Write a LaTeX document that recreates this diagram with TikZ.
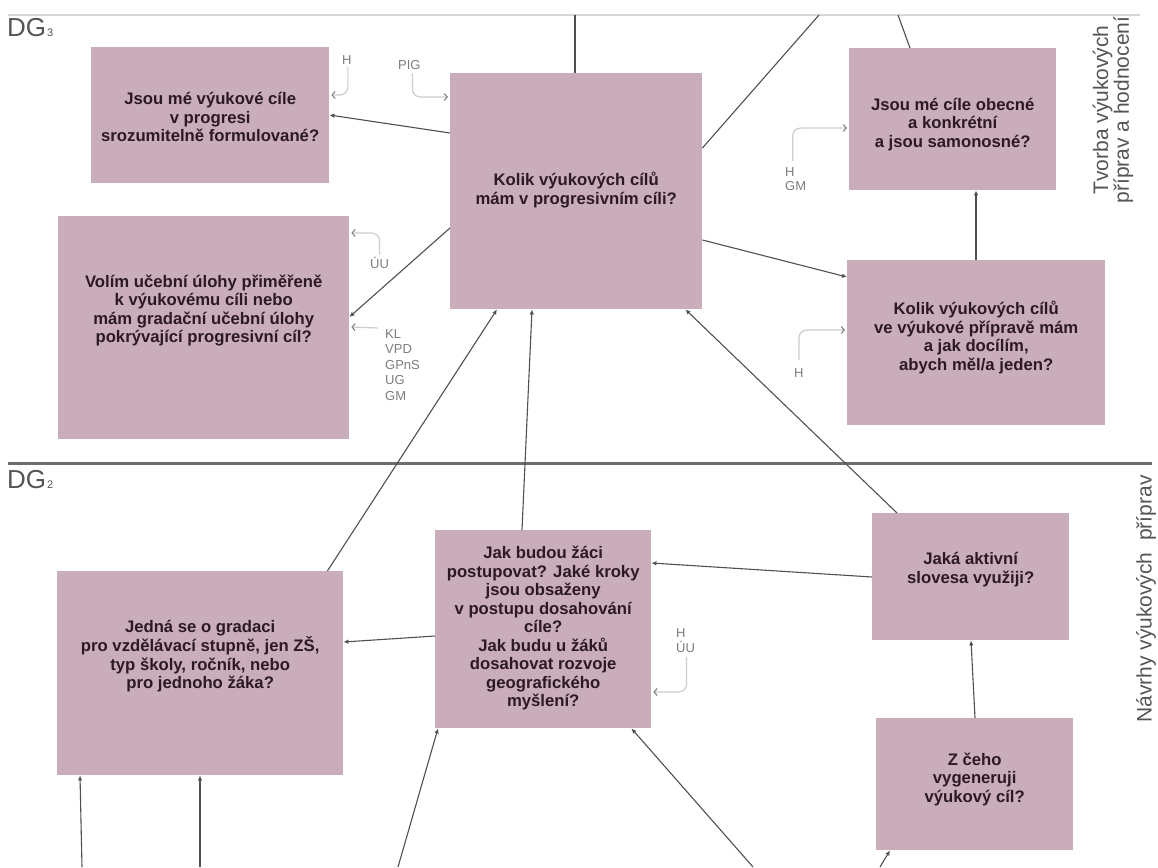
\documentclass[tikz,border=0pt]{standalone}
\usepackage{fontspec}
\setmainfont{Liberation Sans}
\usetikzlibrary{arrows.meta,calc}
\definecolor{boxfill}{RGB}{201,173,187}
\definecolor{boxtext}{RGB}{45,25,38}
\definecolor{conncol}{RGB}{80,80,80}
\definecolor{fbline}{RGB}{205,205,205}
\definecolor{fbtip}{RGB}{130,130,130}
\definecolor{lblcol}{RGB}{125,125,125}
\definecolor{dgcol}{RGB}{85,85,85}
\definecolor{topline}{RGB}{215,215,215}
\definecolor{divline}{RGB}{110,110,110}
\newcommand{\dgsub}[1]{\hspace{1pt}{\fontsize{11}{11}\selectfont #1}}
\begin{document}
\begin{tikzpicture}[x=1pt,y=-1pt,
 qbox/.style={fill=boxfill, draw=none, anchor=north west, inner sep=0pt},
 qtext/.style={text=boxtext, font=\bfseries\fontsize{16.7}{18.5}\selectfont, align=center},
 conn/.style={draw=conncol, line width=1.1pt, -{Latex[length=5pt,width=4.5pt]}},
 plainconn/.style={draw=conncol, line width=1.1pt},
 fb/.style={draw=fbline, line width=1.2pt, rounded corners=8pt, -{Straight Barb[length=3pt,width=7pt,color=fbtip,line width=1.1pt]}},
 lbl/.style={text=lblcol, font=\fontsize{13}{15.5}\selectfont, align=left, inner sep=0pt},
 dg/.style={text=dgcol, font=\fontsize{26}{26}\selectfont, inner sep=0pt},
 rot/.style={text=dgcol, font=\fontsize{21}{19}\selectfont, rotate=90, align=center, inner sep=0pt}]
\useasboundingbox (0,0) rectangle (1158,867);
\fill[white] (0,0) rectangle (1158,867);

% guide lines
\coordinate (tl1) at (8,15);
\coordinate (tl2) at (1140,15);
\draw[topline, line width=1.5pt] (tl1) -- (tl2);
\coordinate (dv1) at (8,463);
\coordinate (dv2) at (1152,463);
\draw[divline, line width=3pt] (dv1) -- (dv2);

\node[dg, anchor=base west] (dg3) at (7,37) {DG\dgsub{3}};
\node[dg, anchor=base west] (dg2) at (7,488) {DG\dgsub{2}};

\node[rot] (tv) at (1113,110) {Tvorba výukových\\příprav a hodnocení};
\node[rot] (nv) at (1146,599) {Návrhy výukových\ \ příprav};

% boxes
\node[qbox, minimum width=238pt, minimum height=136pt,
  label={[qtext,yshift=-2pt]center:{Jsou mé výukové cíle\\v progresi\\srozumitelně formulované?}}] (A) at (91,47) {};
\node[qbox, minimum width=252pt, minimum height=236pt,
  label={[qtext,yshift=1pt]center:{Kolik výukových cílů\\mám v progresivním cíli?}}] (B) at (450,73) {};
\node[qbox, minimum width=291pt, minimum height=223pt,
  label={[qtext,yshift=17pt]center:{Volím učební úlohy přiměřeně\\k výukovému cíli nebo\\mám gradační učební úlohy\\pokrývající progresivní cíl?}}] (C) at (58,216) {};
\node[qbox, minimum width=207pt, minimum height=142pt,
  label={[qtext,yshift=-5pt]center:{Jsou mé cíle obecné\\a konkrétní\\a jsou samonosné?}}] (D) at (849,48) {};
\node[qbox, minimum width=258pt, minimum height=165pt,
  label={[qtext,yshift=5pt]center:{Kolik výukových cílů\\ve výukové přípravě mám\\a jak docílím,\\abych měl/a jeden?}}] (E) at (847,260) {};
\node[qbox, minimum width=286pt, minimum height=204pt,
  label={[qtext,yshift=17pt]center:{Jedná se o gradaci\\pro vzdělávací stupně, jen ZŠ,\\typ školy, ročník, nebo\\pro jednoho žáka?}}] (F) at (57,571) {};
\node[qbox, minimum width=216pt, minimum height=198pt,
  label={[qtext,yshift=1pt]center:{Jak budou žáci\\postupovat? Jaké kroky\\jsou obsaženy\\v postupu dosahování\\cíle?\\Jak budu u žáků\\dosahovat rozvoje\\geografického\\myšlení?}}] (G) at (435,530) {};
\node[qbox, minimum width=197pt, minimum height=127pt,
  label={[qtext,yshift=7pt]center:{Jaká aktivní\\slovesa využiji?}}] (H) at (872,513) {};
\node[qbox, minimum width=197pt, minimum height=132pt,
  label={[qtext,yshift=5pt]center:{Z čeho\\vygeneruji\\výukový cíl?}}] (I) at (876,718) {};

% plain lines to the top
\coordinate (t1) at (575,15);
\coordinate (t2) at (819,15);
\coordinate (t3) at (898,15);
\draw[plainconn] (t1) -- ($(B.north west)+(125,0)$);
\draw[plainconn] (t2) -- ($(B.north east)+(0,75)$);
\draw[plainconn] (t3) -- ($(D.north west)+(61,0)$);

% main connectors
\draw[conn] ($(B.north west)+(0,60)$) -- ($(A.north east)+(0,68)$);
\draw[conn] ($(B.north west)+(0,155)$) -- ($(C.north east)+(0,101)$);
\draw[conn] ($(B.north east)+(0,167)$) -- ($(E.north west)+(0,17)$);
\draw[conn] ($(E.north west)+(129,0)$) -- ($(D.south west)+(127,0)$);
\draw[conn] ($(F.north east)+(-16,0)$) -- ($(B.south west)+(47,0)$);
\draw[conn] ($(G.north west)+(87,0)$) -- ($(B.south west)+(82,0)$);
\draw[conn] ($(H.north west)+(25,0)$) -- ($(B.south east)+(-17,0)$);
\draw[conn] ($(H.north west)+(0,64)$) -- ($(G.north east)+(0,33)$);
\draw[conn] ($(I.north west)+(99,0)$) -- ($(H.south west)+(99,0)$);
\draw[conn] ($(G.north west)+(0,106)$) -- ($(F.north east)+(0,71)$);

% connectors from below
\coordinate (b1) at (82,867);
\coordinate (b2) at (200,867);
\coordinate (b3) at (398,867);
\coordinate (b4) at (753,867);
\coordinate (b5) at (880,867);
\draw[conn] (b1) -- ($(F.south west)+(23,0)$);
\draw[conn] (b2) -- ($(F.south west)+(143,0)$);
\draw[conn] (b3) -- ($(G.south west)+(3,0)$);
\draw[conn] (b4) -- ($(G.south east)+(-20,0)$);
\draw[conn] (b5) -- ($(I.south west)+(14,0)$);

% feedback labels and arrows
\node[lbl, anchor=base west] (lH1) at (342,64) {H};
\draw[fb] ($(lH1.south)+(1,3)$) |- ($(A.north east)+(2,48)$);

\node[lbl, anchor=base west] (lPIG) at (398,70) {PIG};
\draw[fb] ($(lPIG.south)+(3,3)$) |- ($(B.north west)+(-2,24)$);

\node[lbl, anchor=base west] (lUU) at (370,268) {ÚU};
\draw[fb] ($(lUU.north)+(0,-2)$) |- ($(C.north east)+(2,17)$);

\node[lbl, anchor=north west] (lKL) at (385,329) {KL\\VPD\\GPnS\\UG\\GM};
\draw[fb] ($(lKL.north west)+(-7,-1)$) -- ($(C.north east)+(2,111)$);

\node[lbl, anchor=north west, font=\fontsize{13}{14}\selectfont] (lHGM) at (785,167) {H\\GM};
\draw[fb] ($(lHGM.north)+(-3,-6)$) |- ($(D.north west)+(-2,80)$);

\node[lbl, anchor=base west] (lHE) at (794,377) {H};
\draw[fb] ($(lHE.north)+(0,-8)$) |- ($(E.north west)+(-2,70)$);

\node[lbl, anchor=north west] (lHU) at (676,628) {H\\ÚU};
\draw[fb] ($(lHU.south)+(1,4)$) |- ($(G.north east)+(2,162)$);
\end{tikzpicture}
\end{document}
